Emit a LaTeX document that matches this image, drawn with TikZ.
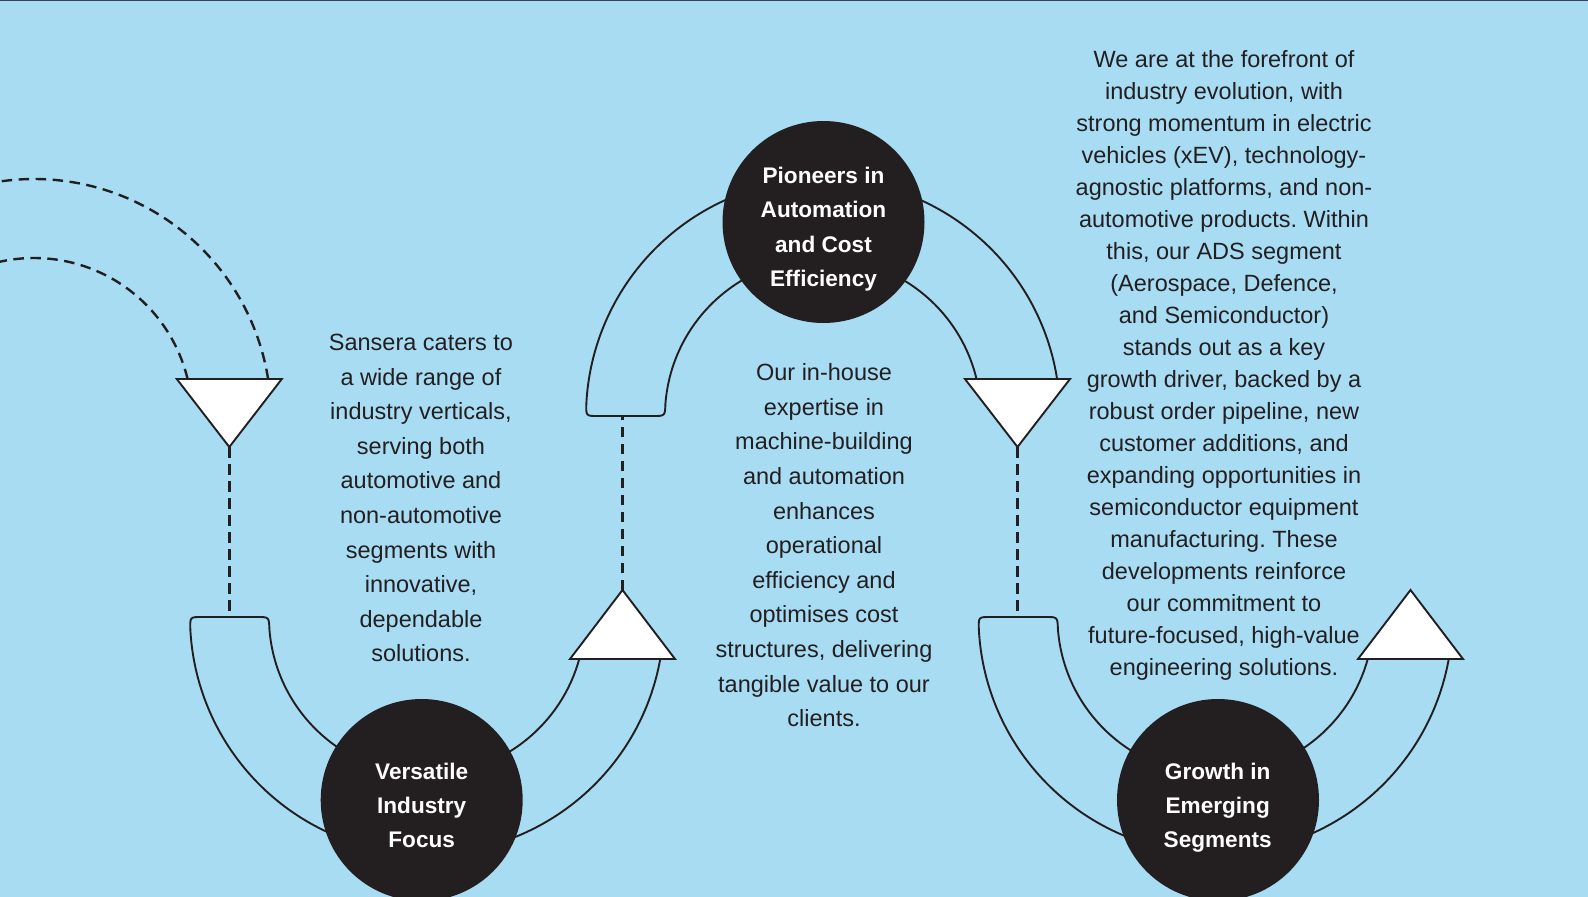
\documentclass[tikz,border=0pt]{standalone}
\usepackage{fontspec}
\setmainfont{Liberation Sans}
\frenchspacing
\definecolor{bg}{RGB}{167,220,243}
\definecolor{ink}{RGB}{35,31,32}
\definecolor{stripe}{RGB}{60,62,92}
\newcommand\lowband[1]{%
  \draw[band] (#1,617) ++(10.21:237) arc[start angle=10.21,end angle=177.1,radius=237]
    .. controls (#1-237,617) .. (#1-225,617) -- (#1-170,617)
    .. controls (#1-158,617) .. (#1-157.6,629)
    arc[start angle=175.64,end angle=15.41,radius=158];}
\newcommand\highband[1]{%
  \draw[band] (#1,416) ++(351.02:237) arc[start angle=351.02,end angle=182.9,radius=237]
    .. controls (#1-237,416) .. (#1-225,416) -- (#1-170,416)
    .. controls (#1-158,416) .. (#1-157.6,404)
    arc[start angle=184.36,end angle=346.46,radius=158];}
\newcommand\downtri[2]{\draw[tri] (#1-52.5,379) -- (#1+52.5,379) -- (#2) -- cycle;}
\newcommand\uptri[2]{\draw[tri] (#1-52.5,659) -- (#1+52.5,659) -- (#2) -- cycle;}
\begin{document}
\begin{tikzpicture}[x=1pt,y=-1pt,
  band/.style={draw=ink,line width=1.9pt},
  dashline/.style={draw=ink,line width=2.4pt,dash pattern=on 10.5pt off 6.5pt},
  tri/.style={draw=ink,fill=white,line width=1.9pt,line join=miter},
  hub/.style={circle,fill=ink,minimum size=202pt,inner sep=0pt},
  body/.style={anchor=base,text=ink,inner sep=0pt,font=\fontsize{23.5}{28}\selectfont},
  hubtext/.style={anchor=base,text=white,inner sep=0pt,font=\bfseries\fontsize{22.6}{27}\selectfont}]
\useasboundingbox (0,0) rectangle (1588,897);
\clip (0,0) rectangle (1588,897);
\fill[bg] (0,0) rectangle (1588,897);
\fill[stripe] (0,0) rectangle (1588,1.1);

% named points
\coordinate (t1tip) at (229.3,447);
\coordinate (b1cap) at (229.3,617);
\coordinate (t2tip) at (622.5,590);
\coordinate (c1cap) at (622.5,416);
\coordinate (t3tip) at (1017.5,447);
\coordinate (b2cap) at (1017.5,617);
\coordinate (t4tip) at (1410.5,590);

% dashed arcs entering from the left
\draw[dashline] (34,416) ++(351.02:237) arc[start angle=351.02,end angle=245,radius=237];
\draw[dashline] (34,416) ++(346.46:158) arc[start angle=346.46,end angle=245,radius=158];

% solid bands
\lowband{427}
\highband{823}
\lowband{1215.5}

% dashed connectors
\draw[dashline] (t1tip) -- (b1cap);
\draw[dashline] (t2tip) -- (c1cap);
\draw[dashline] (t3tip) -- (b2cap);

% arrow triangles
\downtri{229.3}{t1tip}
\uptri{622.5}{t2tip}
\downtri{1017.5}{t3tip}
\uptri{1410.5}{t4tip}

% hubs
\node[hub] (h1) at (421.7,800) {};
\node[hub] (h2) at (823.5,222) {};
\node[hub] (h3) at (1218,800) {};

\foreach \t [count=\i] in {Versatile,Industry,Focus}
  \node[hubtext] (h1l\i) at (421.7,{779+34.4*(\i-1)}) {\t};
\foreach \t [count=\i] in {Pioneers in,Automation,and Cost,Efficiency}
  \node[hubtext] (h2l\i) at (823.5,{183.3+34.4*(\i-1)}) {\t};
\foreach \t [count=\i] in {Growth in,Emerging,Segments}
  \node[hubtext] (h3l\i) at (1217.7,{779+34.4*(\i-1)}) {\t};

% body texts
\foreach \t [count=\i] in {Sansera caters to,a wide range of,{industry verticals,},serving both,automotive and,non-automotive,segments with,{innovative,},dependable,solutions.}
  \node[body] (lt\i) at (421,{350.7+34.56*(\i-1)}) {\t};
\foreach \t [count=\i] in {Our in-house,expertise in,machine-building,and automation,enhances,operational,efficiency and,optimises cost,{structures, delivering},tangible value to our,clients.}
  \node[body] (mt\i) at (824,{380.7+34.6*(\i-1)}) {\t};
\foreach \t [count=\i] in {We are at the forefront of,{industry evolution, with},strong momentum in electric,{vehicles (xEV), technology-},{agnostic platforms, and non-},automotive products. Within,{this, our ADS segment},{(Aerospace, Defence,},and Semiconductor),stands out as a key,{growth driver, backed by a},{robust order pipeline, new},{customer additions, and},expanding opportunities in,semiconductor equipment,manufacturing. These,developments reinforce,our commitment to,{future-focused, high-value},engineering solutions.}
  \node[body] (rt\i) at (1224,{67.3+32*(\i-1)}) {\t};
\end{tikzpicture}
\end{document}
